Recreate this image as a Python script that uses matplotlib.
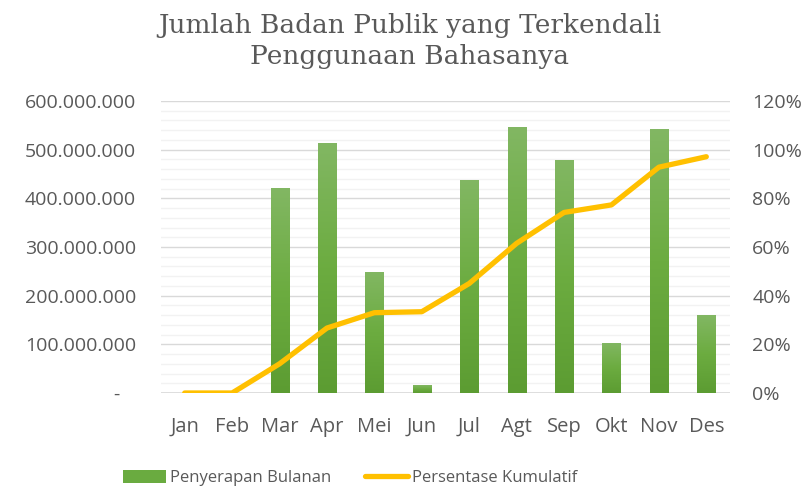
import matplotlib
matplotlib.use("Agg")
import matplotlib.pyplot as plt
import numpy as np
from matplotlib.ticker import FuncFormatter, MultipleLocator
from matplotlib.lines import Line2D
from matplotlib.patches import Patch
from matplotlib.colors import LinearSegmentedColormap

months = ["Jan", "Feb", "Mar", "Apr", "Mei", "Jun", "Jul", "Agt", "Sep", "Okt", "Nov", "Des"]
monthly = [0, 0, 421e6, 514e6, 249e6, 16e6, 438e6, 547e6, 479e6, 103e6, 542e6, 160e6]
cumulative_pct = [0, 0, 12.0, 26.7, 33.0, 33.4, 45.0, 61.5, 74.2, 77.3, 92.8, 97.1]

gray = "#595959"
green = "#6AAB40"
gold = "#FFC000"
grad = LinearSegmentedColormap.from_list("g", ["#5C9C32", "#6CAC40", "#82B763"])

fig = plt.figure(figsize=(8.07, 4.90), dpi=100)
ax = fig.add_axes([161/807, 1 - 393/490, (730-161)/807, (393-101)/490])
ax2 = ax.twinx()

x = list(range(len(months)))
bars = ax.bar(x, monthly, width=0.38, color=green, zorder=3)
ax.set_ylim(0, 600e6)
ax.set_xlim(-0.5, len(months) - 0.5)
gimg = np.linspace(1, 0, 256).reshape(-1, 1)
for b in bars:
    h = b.get_height()
    if h <= 0:
        continue
    x0 = b.get_x()
    im = ax.imshow(gimg, extent=[x0, x0 + b.get_width(), 0, h], aspect="auto",
                   cmap=grad, vmin=0, vmax=1, zorder=3.1, interpolation="bilinear")
    im.set_clip_path(b)
ax.set_ylim(0, 600e6)
ax.set_xlim(-0.5, len(months) - 0.5)

ax.yaxis.set_major_locator(MultipleLocator(100e6))
ax.yaxis.set_minor_locator(MultipleLocator(20e6))
ax.grid(which="major", axis="y", color="#D9D9D9", linewidth=1.0, zorder=0)
ax.grid(which="minor", axis="y", color="#F2F2F2", linewidth=1.0, zorder=0)
ax.set_axisbelow(True)

def fmt_left(v, pos):
    if v == 0:
        return "-   "
    return f"{int(v):,}".replace(",", ".")
ax.yaxis.set_major_formatter(FuncFormatter(fmt_left))
ax.set_xticks(x)
ax.set_xticklabels(months)

ax2.plot(x, cumulative_pct, color=gold, linewidth=3.8, solid_capstyle="round",
         solid_joinstyle="round", zorder=4)
ax2.set_ylim(0, 120)
ax2.yaxis.set_major_locator(MultipleLocator(20))
ax2.yaxis.set_major_formatter(FuncFormatter(lambda v, p: f"{int(v)}%"))

for a in (ax, ax2):
    for s in a.spines.values():
        s.set_visible(False)
    a.tick_params(which="both", length=0, labelcolor=gray)
    for lab in a.get_yticklabels():
        lab.set_fontfamily("Open Sans")
        lab.set_fontsize(14)
ax.tick_params(axis="y", pad=18)
ax.tick_params(axis="x", pad=17)
for lab in ax.get_xticklabels():
    lab.set_fontfamily("Open Sans")
    lab.set_fontsize(14.5)
ax2.tick_params(axis="y", pad=16)
ax.axhline(0, color="#D9D9D9", linewidth=1.2, zorder=2)

fig.text(0.508, 0.974, "Jumlah Badan Publik yang Terkendali\nPenggunaan Bahasanya",
         ha="center", va="top", fontsize=19, color=gray, family="DejaVu Serif",
         linespacing=1.3)

handles = [Patch(facecolor=green, edgecolor="none"),
           Line2D([0], [0], color=gold, linewidth=3.8, solid_capstyle="round")]
leg = fig.legend(handles, ["Penyerapan Bulanan", "Persentase Kumulatif"],
                 loc="center", bbox_to_anchor=(350/807, 1 - 478/490), ncol=2, frameon=False,
                 prop={"family": "Open Sans", "size": 12}, handlelength=2.6,
                 handleheight=0.8, handletextpad=0.25, columnspacing=2.0)
for t in leg.get_texts():
    t.set_color(gray)

fig.savefig("out.png", dpi=100, facecolor="white")
